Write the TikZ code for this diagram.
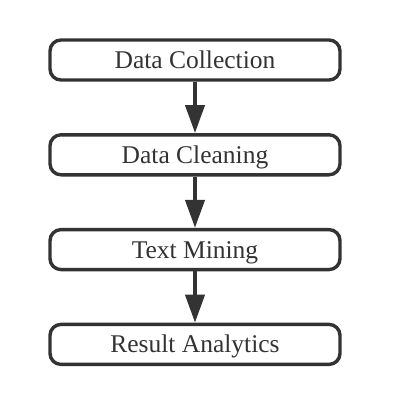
\documentclass[tikz,border=0pt]{standalone}
\usepackage{fontspec}
\setmainfont{Liberation Serif}
\usetikzlibrary{arrows.meta}
\definecolor{ink}{HTML}{333333}
\begin{document}
\begin{tikzpicture}[x=1bp,y=-1bp,
  stepbox/.style={draw=ink, line width=3.4bp, rounded corners=11bp, fill=white,
    minimum width=290bp, minimum height=40bp, inner sep=0pt,
    text height=16.9bp, text depth=0bp, text=ink,
    font=\fontsize{25.5bp}{30bp}\selectfont},
  flow/.style={draw=ink, line width=4bp, -{Triangle[length=28bp,width=19bp]}, shorten >=0bp}
]
\useasboundingbox (0,0) rectangle (406,414);
\node[stepbox] (a) at (195,60) {Data Collection};
\node[stepbox] (b) at (195,154.8) {Data Cleaning};
\node[stepbox] (c) at (195,249.6) {Text Mining};
\node[stepbox] (d) at (195,344.4) {Result Analytics};
\draw[flow] (a) -- (b);
\draw[flow] (b) -- (c);
\draw[flow] (c) -- (d);
\end{tikzpicture}
\end{document}
